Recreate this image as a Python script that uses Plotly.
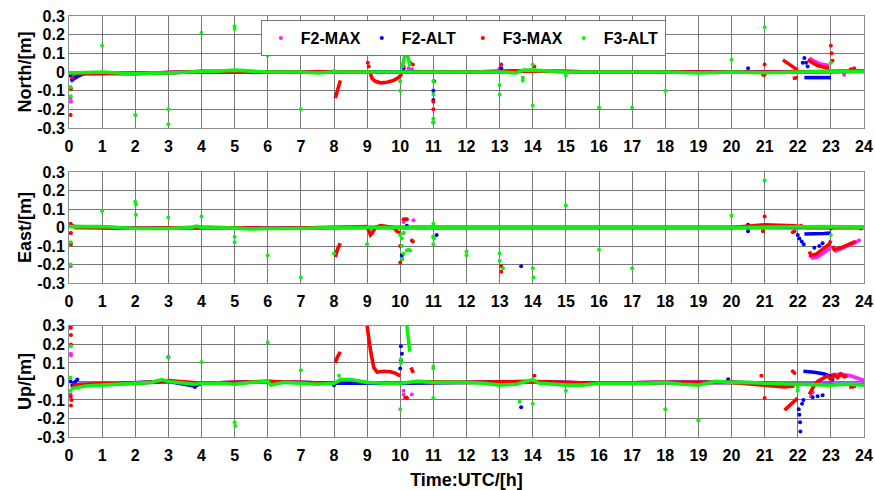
import plotly.graph_objects as go
from plotly.subplots import make_subplots

# ---------------------------------------------------------------------------
# Axis ticks and labels
# ---------------------------------------------------------------------------
HOURS = list(range(25))
Y_TICKS = [-0.3, -0.2, -0.1, 0.0, 0.1, 0.2, 0.3]
Y_TICK_TEXT = ["-0.3", "-0.2", "-0.1", "0", "0.1", "0.2", "0.3"]
COMPONENTS = ["North/[m]", "East/[m]", "Up/[m]"]
SERIES = ["F2-MAX", "F2-ALT", "F3-MAX", "F3-ALT"]
COLORS = {"F2-MAX": "#ff22ff", "F2-ALT": "#0000ff", "F3-MAX": "#ff0000", "F3-ALT": "#11ee11"}

# ---------------------------------------------------------------------------
# Positioning errors (time [h], error [m]); None breaks a continuous track
# ---------------------------------------------------------------------------
# ---- North ----
north_f2max_track = [(0.1, -0.005), (2, -0.008), (4, 0.002), (6, 0.0), (8, 0.0), (9.9, 0.0), None,
                     (10.4, 0.002), (12, 0.0), (14, 0.005), (16, 0.0), (18, 0.0), (20, 0.0), (22, 0.0), (24, 0.005), None,
                     (22.35, 0.075), (22.5, 0.058), (22.7, 0.042), (22.95, 0.035)]
north_f2max_pts = [(0.05, -0.14), (0.06, -0.16), (10.25, 0.02), (10.35, 0.015), (13.0, 0.02),
                   (23.4, -0.015), (23.8, 0.005)]

north_f2alt_track = [(0.05, -0.05), (0.15, -0.035), (0.3, -0.02), (0.5, -0.005), (2, -0.008), (4, 0.002),
                     (6, 0.0), (8, 0.0), (10, 0.0), (12, 0.0), (14, 0.005), (16, 0.0), (18, 0.0), (20, 0.0),
                     (22, 0.0), (24, 0.003), None,
                     (22.2, -0.03), (22.5, -0.032), (22.8, -0.03), (23.0, -0.03)]
north_f2alt_pts = [(0.05, -0.02), (0.1, -0.04), (0.2, -0.03), (10.1, 0.02), (10.15, 0.0), (11.0, -0.1),
                   (11.0, -0.15), (11.0, -0.27), (11.02, -0.05), (13.05, 0.02), (20.5, 0.02),
                   (22.1, 0.0), (22.15, 0.05), (22.2, 0.075), (22.25, 0.05), (22.3, 0.03)]

north_f3max_track = [(0.1, -0.01), (2, -0.008), (4, 0.002), (6, 0.0), (8, 0.0), (9.0, 0.0), None,
                     (8.04, -0.14), (8.08, -0.11), (8.13, -0.08), (8.19, -0.045), None,
                     (9.1, -0.01), (9.15, -0.035), (9.25, -0.05), (9.4, -0.058), (9.6, -0.055),
                     (9.8, -0.045), (9.95, -0.03), (10.05, -0.01), None,
                     (10.4, 0.0), (12, 0.0), (14, 0.005), (16, 0.0), (18, 0.0), (20, 0.0), (21, -0.002),
                     (22, 0.0), (24, 0.005), None,
                     (21.55, 0.065), (21.7, 0.045), (21.85, 0.025), (22.0, 0.01), None,
                     (21.85, -0.035), (22.0, -0.03), None,
                     (22.3, 0.065), (22.45, 0.05), (22.6, 0.035), (22.8, 0.025), (22.95, 0.02)]
north_f3max_pts = [(0.05, -0.23), (0.06, -0.09), (0.1, -0.03), (9.02, 0.05), (9.05, 0.03), (10.1, 0.03),
                   (10.3, 0.05), (10.38, 0.04), (11.0, -0.2), (11.0, -0.16), (13.05, 0.04), (14.05, 0.03),
                   (21.0, 0.04), (21.0, -0.015), (20.95, -0.015), (23.0, 0.14), (23.02, 0.1),
                   (23.05, 0.06), (23.6, 0.015), (23.7, 0.02)]

north_f3alt_track = [(0.0, -0.005), (0.5, -0.003), (1, 0.0), (1.5, -0.005), (2, -0.01), (2.5, -0.006),
                     (3, -0.005), (4, 0.003), (4.5, 0.004), (5, 0.01), (5.5, 0.006), (6, 0.0), (7, 0.0),
                     (7.5, -0.005), (8, 0.0), (9, 0.0), (10, 0.0), (11, 0.0), (12, 0.0), (13, 0.0),
                     (13.5, -0.005), (13.7, 0.01), (14, 0.01), (15, 0.0), (16, 0.0), (17, 0.0), (18, 0.0),
                     (19, -0.005), (20, 0.0), (21, -0.004), (22, 0.0), (23, 0.003), (24, 0.003), None,
                     (10.05, 0.02), (10.1, 0.06), (10.15, 0.1), (10.18, 0.12), (10.22, 0.09), (10.3, 0.03)]
north_f3alt_pts = [(0.05, -0.08), (0.05, -0.13), (1.0, 0.14), (2.0, -0.23), (3.0, -0.2), (3.0, -0.28),
                   (4.0, 0.21), (5.0, 0.245), (5.0, 0.23), (6.0, 0.09), (7.0, -0.2), (8.0, 0.005),
                   (9.0, 0.0), (10.0, -0.05), (10.0, -0.1), (11.0, -0.05), (11.0, -0.12), (11.0, -0.25),
                   (11.0, -0.27), (13.0, -0.07), (13.0, -0.12), (13.7, -0.03), (13.7, -0.045),
                   (14.0, 0.04), (14.0, -0.18), (15.0, -0.02), (16.0, -0.19), (17.0, -0.19),
                   (18.0, -0.1), (20.0, 0.065), (21.0, 0.24), (23.0, 0.05)]

# ---- East ----
east_f2max_track = [(0.15, 0.0), (2, -0.004), (4, 0.0), (6, -0.004), (8, 0.0), (10, 0.0), (12, 0.0),
                    (14, 0.004), (16, 0.0), (18, 0.0), (20, 0.0), (22, 0.004), (24, 0.0), None,
                    (22.35, -0.15), (22.45, -0.165), (22.6, -0.16), (22.8, -0.135), (23.0, -0.11), None,
                    (23.1, -0.13), (23.4, -0.11), (23.7, -0.085), (23.9, -0.065)]
east_f2max_pts = [(0.05, -0.21), (0.06, -0.03), (10.1, 0.03), (10.4, 0.04), (10.1, -0.03)]

east_f2alt_track = [(0.15, 0.005), (2, -0.004), (4, 0.0), (6, -0.004), (8, 0.0), (10, 0.0), (12, 0.0),
                    (14, 0.004), (16, 0.0), (18, 0.0), (20, 0.0), (22, 0.004), (24, 0.0), None,
                    (22.2, -0.035), (22.5, -0.035), (22.8, -0.032), (23.0, -0.03)]
east_f2alt_pts = [(0.1, 0.01), (10.05, -0.15), (10.05, -0.17), (10.15, 0.0), (10.2, 0.01), (11.1, -0.04),
                  (13.65, -0.21), (20.5, 0.015), (20.5, -0.02), (22.0, -0.04), (22.05, -0.06),
                  (22.12, -0.075), (22.18, -0.09), (22.5, -0.11), (22.65, -0.1), (22.75, -0.085),
                  (23.0, -0.005)]

east_f3max_track = [(0.15, 0.0), (2, -0.004), (4, 0.0), (6, -0.004), (8, 0.0), (9.0, 0.005), None,
                    (8.04, -0.16), (8.1, -0.12), (8.19, -0.085), None,
                    (9.0, 0.005), (9.05, -0.02), (9.1, -0.04), (9.15, -0.03), (9.25, 0.0), (9.4, 0.01),
                    (9.6, 0.005), (9.8, 0.0), (9.9, -0.02), (10.0, -0.03), None,
                    (10.4, 0.0), (12, 0.0), (14, 0.004), (16, 0.0), (18, 0.0), (20, 0.0), (21.0, 0.015),
                    (21.5, 0.012), (21.9, 0.01), (22.3, 0.0), (24, 0.0), None,
                    (22.35, -0.13), (22.4, -0.15), (22.55, -0.145), (22.75, -0.12), (22.95, -0.09),
                    (23.0, -0.07), None,
                    (23.05, -0.1), (23.1, -0.12), (23.3, -0.11), (23.55, -0.09), (23.75, -0.075)]
east_f3max_pts = [(0.05, 0.02), (0.05, -0.03), (0.06, -0.09), (0.1, 0.01), (10.0, -0.19), (10.0, -0.1),
                  (10.1, 0.045), (10.15, 0.045), (10.2, 0.045), (10.35, -0.07), (10.38, -0.075),
                  (11.0, -0.05), (13.05, -0.21), (13.05, -0.24), (21.0, 0.06), (20.95, -0.02),
                  (21.85, -0.025), (21.9, -0.02), (22.1, 0.01), (23.9, -0.005)]

east_f3alt_track = [(0, 0.005), (0.5, 0.005), (1, 0.006), (1.5, 0.0), (2, -0.005), (3, -0.005),
                    (3.7, 0.0), (3.85, 0.008), (4, 0.0), (5, -0.003), (5.5, -0.008), (6, -0.005),
                    (7, -0.005), (8, 0.0), (9, 0.0), (10, 0.0), (11, 0.002), (12, 0.0), (13, 0.0),
                    (14, 0.004), (15, 0.0), (16, 0.0), (17, 0.0), (18, 0.0), (19, -0.002), (20, 0.0),
                    (21, 0.005), (22, 0.005), (23, 0.005), (24, 0.002)]
east_f3alt_pts = [(0.05, -0.08), (0.05, -0.2), (1.0, 0.09), (2.0, 0.14), (2.02, 0.125), (2.02, 0.07),
                  (3.0, 0.055), (4.0, 0.06), (5.0, -0.05), (5.0, -0.08), (6.0, -0.15), (7.0, -0.27),
                  (8.0, -0.14), (8.1, 0.0), (9.0, -0.09), (10.0, -0.04), (10.05, -0.06), (10.05, -0.1),
                  (10.1, -0.14), (10.05, -0.17), (10.2, -0.125), (10.25, -0.12), (10.3, -0.125),
                  (10.1, -0.03), (11.0, 0.02), (11.0, -0.05), (11.02, -0.06), (11.0, -0.09),
                  (12.0, -0.13), (12.0, -0.15), (13.0, -0.14), (13.0, -0.18), (13.1, -0.22),
                  (14.0, -0.22), (14.02, -0.27), (15.0, 0.12), (16.0, -0.12), (17.0, -0.22),
                  (20.0, 0.065), (21.0, 0.255), (23.0, -0.04)]

# ---- Up ----
up_f2max_track = [(0.3, -0.02), (1, -0.015), (2, -0.01), (3, 0.0), (4, -0.01), (6, 0.0), (8, -0.01),
                  (10, -0.01), (12, -0.005), (14, 0.0), (16, -0.01), (18, -0.005), (20, -0.005),
                  (22, -0.015), (23, -0.015), None,
                  (23.0, 0.035), (23.3, 0.04), (23.6, 0.03), (23.8, 0.02), (24.0, 0.005)]
up_f2max_pts = [(0.05, 0.29), (0.06, 0.14), (0.06, 0.15), (0.05, -0.07), (0.07, -0.1), (10.1, -0.05),
                (10.1, -0.07), (10.35, -0.07), (22.4, -0.08), (22.45, -0.06)]

up_f2alt_track = [(0.3, -0.015), (1, -0.015), (2, -0.008), (3, 0.0), (3.8, -0.025), (4, -0.01),
                  (6, 0.0), (8, -0.01), (10, -0.01), (12, -0.005), (14, 0.0), (16, -0.01),
                  (18, -0.005), (20, -0.005), (22, -0.015), (24, -0.015), None,
                  (22.17, 0.055), (22.5, 0.05), (22.8, 0.04), (23.04, 0.026)]
up_f2alt_pts = [(0.05, 0.0), (0.1, -0.02), (0.15, -0.01), (0.2, 0.0), (0.25, 0.01), (3.0, 0.13),
                (3.8, -0.03), (8.0, -0.02), (10.02, 0.19), (10.05, 0.15), (10.02, 0.115), (10.0, 0.07),
                (10.15, -0.01), (13.65, -0.14), (19.9, 0.012), (22.03, -0.15), (22.05, -0.18),
                (22.07, -0.22), (22.08, -0.27), (22.13, -0.12), (22.17, -0.1), (22.45, -0.085),
                (22.6, -0.08), (22.75, -0.075), (23.05, 0.01)]

up_f3max_track = [(0.1, -0.02), (0.5, -0.015), (1, -0.012), (2, -0.01), (3, 0.005), (4, -0.01),
                  (6, 0.0), (8, -0.01), None,
                  (8.04, 0.1), (8.1, 0.13), (8.19, 0.16), None,
                  (9.0, 0.3), (9.03, 0.27), (9.06, 0.22), (9.1, 0.17), (9.15, 0.12), (9.2, 0.075),
                  (9.3, 0.05), (9.4, 0.055), (9.5, 0.055), (9.7, 0.052), (9.85, 0.045), (10.0, 0.03), None,
                  (10.1, -0.085), (10.2, -0.09), (10.25, -0.085), None,
                  (10.32, 0.075), (10.36, 0.06), (10.4, 0.045), None,
                  (10.5, 0.0), (12, -0.005), (14, 0.0), (16, -0.01), (18, -0.005), (20, -0.005),
                  (21.0, -0.02), (21.3, -0.025), (21.6, -0.03), (21.9, -0.025), None,
                  (21.6, -0.155), (21.7, -0.14), (21.8, -0.12), (21.9, -0.105), (22.0, -0.09), None,
                  (22.35, -0.07), (22.4, -0.05), (22.5, -0.02), (22.6, 0.0), (22.7, 0.01), (22.8, 0.02),
                  (22.9, 0.03), (23.0, 0.01), (23.1, 0.035), (23.2, 0.02), (23.3, 0.04), (23.4, 0.025),
                  (23.5, 0.03), None,
                  (23.55, -0.03), (23.65, -0.03), (23.75, -0.025)]
up_f3max_pts = [(0.05, 0.3), (0.05, 0.29), (0.06, 0.25), (0.06, 0.2), (0.05, -0.08), (0.06, -0.13),
                (0.08, -0.1), (11.0, -0.01), (14.05, 0.03), (20.9, 0.03), (21.0, -0.09),
                (21.85, 0.055), (21.9, 0.045)]

up_f3alt_track = [(0.05, -0.04), (0.3, -0.03), (0.5, -0.025), (1, -0.02), (1.5, -0.015), (2, -0.01),
                  (2.5, -0.005), (2.8, 0.01), (3.0, 0.0), (3.5, -0.01), (3.8, -0.015), (4, -0.01),
                  (4.5, -0.01), (5, -0.015), (5.5, -0.005), (6, 0.0), (6.1, -0.02), (6.5, -0.005),
                  (7, -0.01), (7.5, -0.015), (8, -0.01), (8.2, 0.01), (8.5, 0.01), (9, -0.005),
                  (9.5, -0.01), (10, -0.01), (10.5, 0.0), (11, -0.005), (11.5, -0.005), (12, -0.005),
                  (12.5, -0.01), (13, -0.02), (13.5, -0.015), (14, 0.01), (14.2, -0.01), (14.5, -0.015),
                  (15, -0.02), (15.5, -0.02), (16, -0.01), (17, -0.01), (17.5, -0.01), (18, -0.005),
                  (18.5, -0.015), (19, -0.02), (19.5, 0.0), (20, -0.005), (20.5, -0.005), (21, -0.01),
                  (22, -0.015), (22.5, -0.02), (23, -0.02), (23.5, -0.015), (24, -0.02), None,
                  (10.2, 0.3), (10.23, 0.25), (10.26, 0.2), (10.29, 0.16)]
up_f3alt_pts = [(0.05, 0.19), (0.05, 0.02), (0.05, -0.05), (3.0, 0.13), (4.0, 0.105), (5.0, -0.22),
                (5.02, -0.24), (6.0, 0.21), (7.0, 0.06), (8.15, 0.03), (10.0, -0.15), (10.02, 0.12),
                (10.02, 0.1), (11.0, 0.08), (11.0, 0.07), (11.0, -0.09), (13.6, -0.11), (14.0, -0.12),
                (15.0, -0.05), (18.0, -0.15), (19.0, -0.21), (22.0, -0.05), (22.0, -0.03)]

PANELS = [
    {"F2-MAX": (north_f2max_track, north_f2max_pts), "F2-ALT": (north_f2alt_track, north_f2alt_pts),
     "F3-MAX": (north_f3max_track, north_f3max_pts), "F3-ALT": (north_f3alt_track, north_f3alt_pts)},
    {"F2-MAX": (east_f2max_track, east_f2max_pts), "F2-ALT": (east_f2alt_track, east_f2alt_pts),
     "F3-MAX": (east_f3max_track, east_f3max_pts), "F3-ALT": (east_f3alt_track, east_f3alt_pts)},
    {"F2-MAX": (up_f2max_track, up_f2max_pts), "F2-ALT": (up_f2alt_track, up_f2alt_pts),
     "F3-MAX": (up_f3max_track, up_f3max_pts), "F3-ALT": (up_f3alt_track, up_f3alt_pts)},
]


def split(pairs):
    xs = [p[0] if p is not None else None for p in pairs]
    ys = [p[1] if p is not None else None for p in pairs]
    return xs, ys


fig = make_subplots(rows=3, cols=1, vertical_spacing=0.1)

for row, panel in enumerate(PANELS, start=1):
    for name in SERIES:
        track, pts = panel[name]
        tx, ty = split(track)
        fig.add_trace(go.Scatter(x=tx, y=ty, mode="lines", connectgaps=False,
                                 line=dict(color=COLORS[name], width=3.6),
                                 legendgroup=name, showlegend=False, hoverinfo="skip"),
                      row=row, col=1)
        px, py = split(pts)
        fig.add_trace(go.Scatter(x=px, y=py, mode="markers", name=name,
                                 marker=dict(color=COLORS[name], size=4),
                                 legendgroup=name, showlegend=(row == 1)),
                      row=row, col=1)

GRID = "#777777"
FRAME = "#8c8c8c"
fig.update_layout(
    width=875, height=490,
    margin=dict(l=69, r=11, t=16, b=53),
    paper_bgcolor="white", plot_bgcolor="white",
    font=dict(family="Liberation Sans, Arial, sans-serif", size=15, color="black", weight="bold"),
    showlegend=True,
    legend=dict(orientation="h", x=0.496, y=0.99, xanchor="center", yanchor="top",
                bgcolor="white", bordercolor="#777777", borderwidth=1,
                font=dict(size=16), entrywidth=56, entrywidthmode="pixels",
                itemwidth=30, itemsizing="trace", tracegroupgap=0),
)

domains = [[0.734, 1.0], [0.366, 0.629], [0.0, 0.264]]
for i in range(3):
    fig.update_xaxes(range=[0, 24], tickvals=HOURS, ticktext=[str(h) for h in HOURS],
                     showgrid=True, gridcolor=GRID, gridwidth=1, zeroline=False,
                     showline=True, linecolor=FRAME, linewidth=1, mirror=True, ticks="",
                     tickfont=dict(size=16), ticklabelstandoff=4, automargin=False,
                     row=i + 1, col=1)
    fig.update_yaxes(range=[-0.3, 0.3], tickvals=Y_TICKS, ticktext=Y_TICK_TEXT, domain=domains[i],
                     showgrid=True, gridcolor=GRID, gridwidth=1, zeroline=False,
                     showline=True, linecolor=FRAME, linewidth=1, mirror=True, ticks="",
                     tickfont=dict(size=16), automargin=False,
                     title=dict(text=COMPONENTS[i], font=dict(size=18), standoff=0),
                     row=i + 1, col=1)

fig.update_xaxes(title=dict(text="Time:UTC/[h]", font=dict(size=18), standoff=10), row=3, col=1)

fig.write_html("out.html")
